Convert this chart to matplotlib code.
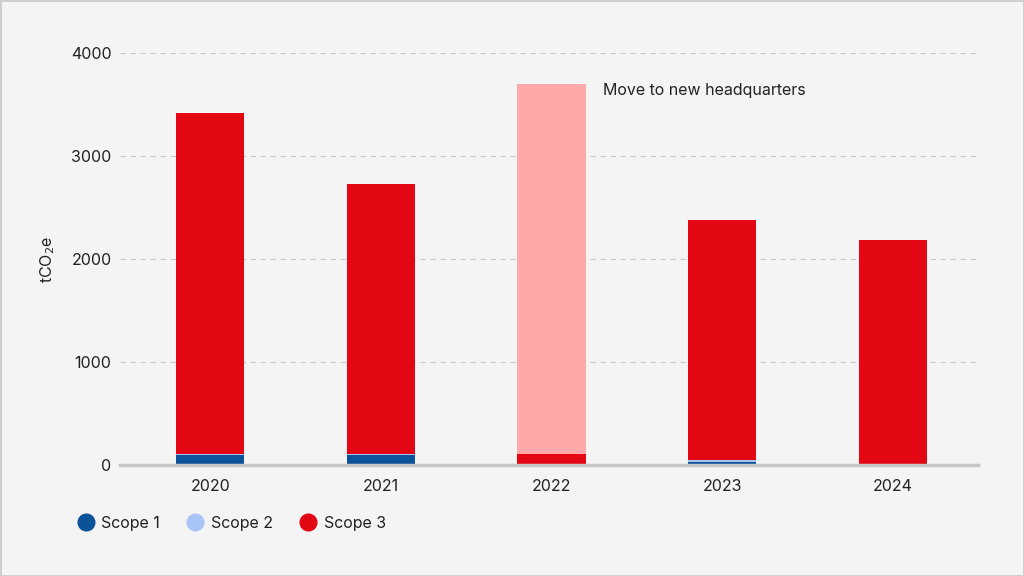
import matplotlib.pyplot as plt
from matplotlib.lines import Line2D
import numpy as np

plt.rcParams['font.family'] = ['Inter', 'DejaVu Sans']

years = ['2020', '2021', '2022', '2023', '2024']
scope1 = [100, 95, 0, 25, 10]
scope2 = [10, 10, 0, 25, 0]
scope3 = [3310, 2620, 105, 2330, 2170]
move_hq = [0, 0, 3595, 0, 0]

c1 = '#0b5298'
c2 = '#a9c5f7'
c3 = '#e30613'
c_move = '#ffa8aa'
bg = '#f4f4f4'

fig = plt.figure(figsize=(10.24, 5.76), dpi=100, facecolor=bg,
                 edgecolor='#cfcfcf', linewidth=2)
ax = fig.add_axes([0.117, 0.193, 0.838, 0.715])
ax.set_facecolor(bg)

x = np.arange(len(years))
w = 0.4
b1 = np.array(scope1)
b2 = b1 + np.array(scope2)
b3 = b2 + np.array(scope3)
ax.bar(x, scope1, w, color=c1, zorder=3)
ax.bar(x, scope2, w, bottom=b1, color=c2, zorder=3)
ax.bar(x, scope3, w, bottom=b2, color=c3, zorder=3)
ax.bar(x, move_hq, w, bottom=b3, color=c_move, zorder=3)

ax.set_xlim(-0.53, 4.5)
ax.set_ylim(0, 4000)
ax.set_yticks([0, 1000, 2000, 3000, 4000])
ax.set_xticks(x)
ax.set_xticklabels(years)
ax.grid(axis='y', color='#c8c8c8', linestyle=(0, (5, 4)), linewidth=0.8, zorder=0)
for s in ['top', 'right', 'left']:
    ax.spines[s].set_visible(False)
ax.spines['bottom'].set_color('#c8c8c8')
ax.spines['bottom'].set_linewidth(2.5)
ax.spines['bottom'].set_zorder(4)
ax.tick_params(axis='both', length=0, labelsize=11.5, colors='#222222')
ax.tick_params(axis='x', pad=10)
ax.tick_params(axis='y', pad=6)
ax.set_ylabel('tCO$_2$e', fontsize=11.5, color='#222222', labelpad=10)

ax.text(2.3, 3640, 'Move to new headquarters', fontsize=11.5, color='#222222',
        va='center', ha='left')

handles = [Line2D([], [], marker='o', linestyle='', markersize=12, color=c)
           for c in [c1, c2, c3]]
fig.legend(handles, ['Scope 1', 'Scope 2', 'Scope 3'], loc='center left',
           bbox_to_anchor=(0.057, 0.092), ncol=3, frameon=False,
           fontsize=11.5, handletextpad=0.15, columnspacing=1.45,
           handlelength=1.6, labelcolor='#222222')

fig.savefig('out.png', dpi=100, facecolor=bg, edgecolor='#cfcfcf')
